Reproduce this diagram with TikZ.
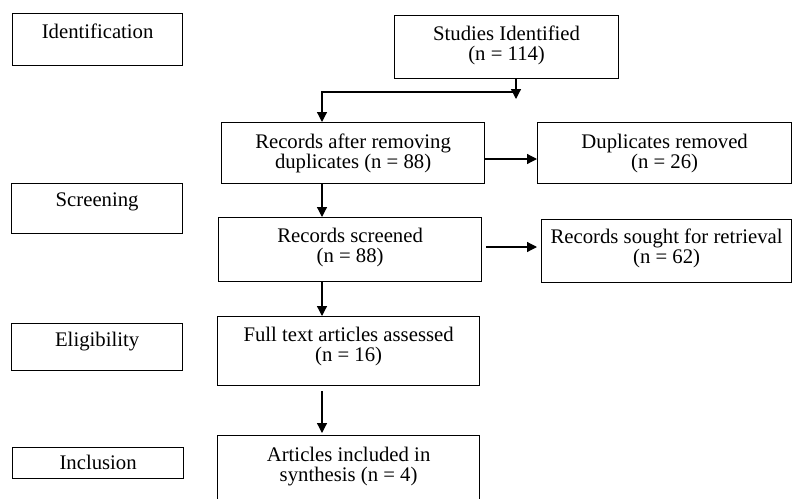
\documentclass[tikz,border=0pt]{standalone}
\usepackage{fontspec}
\setmainfont{Liberation Serif}
\usetikzlibrary{arrows.meta}
\newlength{\unitpx}
\setlength{\unitpx}{0.02cm}
\newcommand{\flowfont}{\fontsize{11.8pt}{11.1pt}\selectfont}
% width, height, first baseline, text
\newcommand{\boxtext}[4]{\parbox[t][#2\unitpx][t]{#1\unitpx}{\centering\rule{0pt}{#3\unitpx}#4}}
\tikzset{
	stage/.style={draw, line width=0.7pt, inner sep=0pt, anchor=north west, font=\flowfont},
	flow/.style={line width=0.7pt, -{Triangle[length=0.2cm, width=0.2cm]}}
}
\begin{document}
\begin{tikzpicture}[x=0.02cm, y=-0.02cm]
	\useasboundingbox (0,0) rectangle (792,498);
	% stage labels
	\node[stage] (ident) at (12,13) {\boxtext{170}{52}{25}{Identification}};
	\node[stage] (screen) at (11,183) {\boxtext{171}{50}{23}{Screening}};
	\node[stage] (elig) at (11,323) {\boxtext{171}{47}{23}{Eligibility}};
	\node[stage] (incl) at (12,447) {\boxtext{171}{31}{22}{Inclusion}};
	% flow boxes
	\node[stage] (studies) at (394,15) {\boxtext{224}{63}{25}{Studies Identified\\(n = 114)}};
	\node[stage] (records) at (221,122) {\boxtext{263}{61}{26}{Records after removing\\duplicates (n = 88)}};
	\node[stage] (duplicates) at (537,122) {\boxtext{254}{61}{26}{Duplicates removed\\(n = 26)}};
	\node[stage] (screened) at (218,217) {\boxtext{263}{64}{25}{Records screened\\(n = 88)}};
	\node[stage] (sought) at (541,219) {\boxtext{250}{63}{24}{Records sought for retrieval\\(n = 62)}};
	\node[stage] (fulltext) at (217,316) {\boxtext{262}{69}{25}{Full text articles assessed\\(n = 16)}};
	\node[stage] (articles) at (217,435) {\boxtext{262}{66}{26}{Articles included in\\synthesis (n = 4)}};
	% connectors
	\coordinate (drop) at (516,99);
	\coordinate (join) at (516,92);
	\coordinate (turn) at (322,92);
	\coordinate (dupl) at (0,159);
	\coordinate (retr) at (0,247);
	\draw[flow] (studies.south -| drop) -- (drop);
	\draw[flow] (join) -- (turn) -- (records.north -| turn);
	\draw[flow] (records.south -| turn) -- (screened.north -| turn);
	\draw[flow] (screened.south -| turn) -- (fulltext.north -| turn);
	\draw[flow, shorten <=0.1cm, shorten >=0.04cm] (fulltext.south -| turn) -- (articles.north -| turn);
	\draw[flow] (records.east |- dupl) -- (duplicates.west |- dupl);
	\draw[flow, shorten <=0.08cm, shorten >=0.08cm] (screened.east |- retr) -- (sought.west |- retr);
\end{tikzpicture}
\end{document}
